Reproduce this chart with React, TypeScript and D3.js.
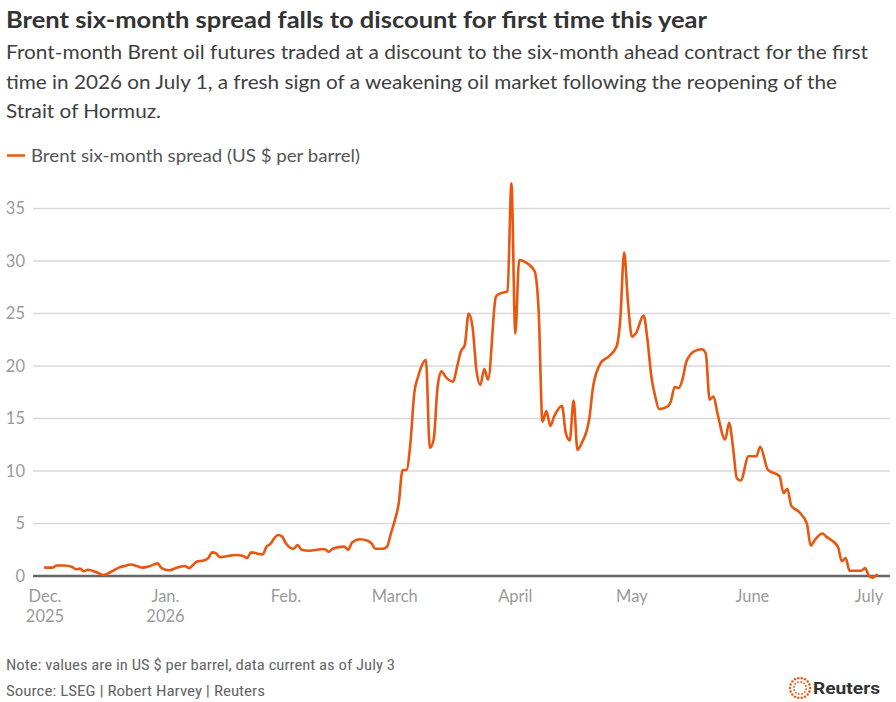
import React from "react";
import * as d3 from "d3";

const titleText = "Brent six-month spread falls to discount for first time this year";
const subtitleLines = [
  "Front-month Brent oil futures traded at a discount to the six-month ahead contract for the first",
  "time in 2026 on July 1, a fresh sign of a weakening oil market following the reopening of the",
  "Strait of Hormuz.",
];
const legendLabel = "Brent six-month spread (US $ per barrel)";
const noteText = "Note: values are in US $ per barrel, data current as of July 3";
const sourceText = "Source: LSEG | Robert Harvey | Reuters";

const yTicks = [0, 5, 10, 15, 20, 25, 30, 35];
const monthTicks = ["2025-12-01", "2026-01-01", "2026-02-01", "2026-03-01", "2026-04-01", "2026-05-01", "2026-06-01", "2026-07-01"];
const monthLabels = [["Dec.", "2025"], ["Jan.", "2026"], ["Feb."], ["March"], ["April"], ["May"], ["June"], ["July"]];

const dates = [
  "2025-12-01", "2025-12-03", "2025-12-04", "2025-12-06", "2025-12-08", "2025-12-09", "2025-12-10", "2025-12-11",
  "2025-12-12", "2025-12-14", "2025-12-16", "2025-12-18", "2025-12-20", "2025-12-22", "2025-12-23", "2025-12-25",
  "2025-12-26", "2025-12-28", "2025-12-30", "2025-12-31",
  "2026-01-02", "2026-01-04", "2026-01-06", "2026-01-07", "2026-01-09", "2026-01-11", "2026-01-12", "2026-01-13",
  "2026-01-14", "2026-01-15", "2026-01-17", "2026-01-19", "2026-01-21", "2026-01-22", "2026-01-23", "2026-01-26",
  "2026-01-27", "2026-01-28", "2026-01-29", "2026-01-30", "2026-01-31",
  "2026-02-01", "2026-02-03", "2026-02-04", "2026-02-05", "2026-02-07", "2026-02-10", "2026-02-11", "2026-02-12",
  "2026-02-13", "2026-02-16", "2026-02-17", "2026-02-18", "2026-02-20", "2026-02-22", "2026-02-23", "2026-02-24",
  "2026-02-26", "2026-02-27", "2026-02-28",
  "2026-03-01", "2026-03-02", "2026-03-03", "2026-03-04", "2026-03-05", "2026-03-06", "2026-03-07", "2026-03-08",
  "2026-03-09", "2026-03-10", "2026-03-11", "2026-03-12", "2026-03-13", "2026-03-14", "2026-03-16", "2026-03-17",
  "2026-03-18", "2026-03-19", "2026-03-20", "2026-03-21", "2026-03-22", "2026-03-23", "2026-03-24", "2026-03-25",
  "2026-03-27", "2026-03-28", "2026-03-30", "2026-03-31",
  "2026-04-01", "2026-04-02", "2026-04-04", "2026-04-05", "2026-04-06", "2026-04-07", "2026-04-08", "2026-04-09",
  "2026-04-10", "2026-04-11", "2026-04-13", "2026-04-14", "2026-04-15", "2026-04-16", "2026-04-17", "2026-04-18",
  "2026-04-20", "2026-04-21", "2026-04-23", "2026-04-25", "2026-04-27", "2026-04-28", "2026-04-29", "2026-04-30",
  "2026-05-01", "2026-05-02", "2026-05-04", "2026-05-05", "2026-05-06", "2026-05-07", "2026-05-08", "2026-05-10",
  "2026-05-11", "2026-05-12", "2026-05-13", "2026-05-14", "2026-05-15", "2026-05-17", "2026-05-19", "2026-05-20",
  "2026-05-21", "2026-05-22", "2026-05-23", "2026-05-25", "2026-05-26", "2026-05-27", "2026-05-28", "2026-05-29",
  "2026-05-31",
  "2026-06-02", "2026-06-03", "2026-06-05", "2026-06-08", "2026-06-09", "2026-06-10", "2026-06-11", "2026-06-13",
  "2026-06-15", "2026-06-16", "2026-06-17", "2026-06-19", "2026-06-20", "2026-06-23", "2026-06-24", "2026-06-25",
  "2026-06-26", "2026-06-29", "2026-06-30",
  "2026-07-01", "2026-07-02", "2026-07-03",
];

const spreadValues = [
  0.8, 0.8, 1.0, 1.0, 0.85, 0.65, 0.7, 0.45,
  0.6, 0.4, 0.1, 0.4, 0.8, 1.0, 1.1, 0.9,
  0.8, 0.95, 1.2, 0.75,
  0.55, 0.8, 0.95, 0.75, 1.35, 1.5, 1.7, 2.25,
  2.15, 1.8, 1.9, 2.0, 1.9, 1.7, 2.25, 2.05,
  2.8, 3.05, 3.6, 3.9, 3.75,
  3.1, 2.6, 2.95, 2.5, 2.4, 2.55, 2.55, 2.3,
  2.6, 2.8, 2.5, 3.2, 3.5, 3.35, 3.1, 2.6,
  2.6, 2.8, 4.05,
  5.3, 6.9, 10.1, 10.1, 12.6, 17.4, 19.0, 20.1,
  20.6, 12.2, 13.0, 18.0, 19.5, 19.0, 18.5, 19.9,
  21.4, 22.0, 25.0, 23.7, 19.6, 18.2, 19.7, 18.7,
  26.6, 26.9, 27.1, 37.4,
  23.1, 30.1, 29.8, 29.5, 29.0, 25.3, 14.7, 15.7,
  14.3, 15.2, 16.2, 13.6, 12.9, 16.7, 12.0, 12.6,
  14.9, 18.0, 20.3, 20.9, 21.8, 24.4, 30.8, 26.0,
  22.8, 23.1, 24.8, 22.5, 19.0, 17.1, 15.9, 16.1,
  16.6, 18.0, 17.9, 18.7, 20.4, 21.4, 21.6, 21.2,
  16.8, 17.1, 15.5, 13.0, 14.6, 12.3, 9.3, 9.1,
  11.4,
  11.4, 12.3, 10.1, 9.5, 7.9, 8.3, 6.7, 6.1,
  5.0, 2.9, 3.4, 4.05, 3.75, 2.8, 1.4, 1.7,
  0.5, 0.5, 0.75,
  0.0, -0.15, 0.1,
];

const W = 896;
const H = 702;
const LINE_COLOR = "#e8560f";
const FONT = "Lato, 'Open Sans', sans-serif";

export default function App() {
  const parse = d3.timeParse("%Y-%m-%d");
  const data = dates.map((d, i) => ({ date: parse(d) as Date, value: spreadValues[i] }));

  const x = d3.scaleTime()
    .domain([parse("2025-12-01") as Date, parse("2026-07-01") as Date])
    .range([45, 869]);
  const y = d3.scaleLinear().domain([0, 35]).range([576, 208.5]);

  const gridLeft = 33;
  const gridRight = 890;

  const line = d3.line<{ date: Date; value: number }>()
    .x((d) => x(d.date))
    .y((d) => y(d.value))
    .curve(d3.curveMonotoneX);

  // Reuters logo dots
  const logoCx = 800;
  const logoCy = 688;
  const outer = d3.range(18).map((i) => {
    const a = (i / 18) * Math.PI * 2;
    return { x: logoCx + Math.cos(a) * 10, y: logoCy + Math.sin(a) * 10, r: 1.25 };
  });
  const inner = d3.range(12).map((i) => {
    const a = (i / 12) * Math.PI * 2 + 0.2;
    return { x: logoCx + Math.cos(a) * 6.2, y: logoCy + Math.sin(a) * 6.2, r: 0.95 };
  });

  return (
    <svg
      width={W}
      height={H}
      viewBox={`0 0 ${W} ${H}`}
      style={{ position: "absolute", left: 0, top: 0, display: "block", background: "#fff" }}
      fontFamily={FONT}
    >
      <rect x={0} y={0} width={W} height={H} fill="#fff" />
      <text x={6} y={28} fontSize={23} fontWeight={700} fill="#333" textLength={701} lengthAdjust="spacingAndGlyphs">
        {titleText}
      </text>
      {subtitleLines.map((t, i) => (
        <text
          key={i}
          x={6}
          y={59 + i * 29.5}
          fontSize={20}
          fill="#404040"
          textLength={i === 0 ? 862 : i === 1 ? 831 : 155}
          lengthAdjust="spacingAndGlyphs"
        >
          {t}
        </text>
      ))}

      {/* legend */}
      <line x1={7} x2={25} y1={155.5} y2={155.5} stroke={LINE_COLOR} strokeWidth={2.5} />
      <text x={31} y={162} fontSize={18} fill="#555" textLength={329} lengthAdjust="spacingAndGlyphs">
        {legendLabel}
      </text>

      {/* gridlines */}
      {yTicks.filter((t) => t !== 0).map((t) => (
        <line key={t} x1={gridLeft} x2={gridRight} y1={y(t)} y2={y(t)} stroke="#d9d9d9" strokeWidth={1.3} />
      ))}
      {yTicks.map((t) => (
        <text key={"l" + t} x={25} y={y(t)} dy="0.35em" textAnchor="end" fontSize={16.5} fill="#9a9a9a">
          {t}
        </text>
      ))}
      <line x1={gridLeft} x2={gridRight} y1={y(0)} y2={y(0)} stroke="#666" strokeWidth={2.5} />

      {/* x labels */}
      {monthTicks.map((m, i) => {
        const xp = x(parse(m) as Date);
        return (
          <g key={m}>
            {monthLabels[i].map((lab, j) => (
              <text key={j} x={xp} y={602 + j * 20} textAnchor="middle" fontSize={16.5} fill="#9a9a9a">
                {lab}
              </text>
            ))}
          </g>
        );
      })}

      {/* data line */}
      <path d={line(data) || ""} fill="none" stroke={LINE_COLOR} strokeWidth={2.6} strokeLinejoin="round" strokeLinecap="round" />

      {/* footer */}
      <text x={6} y={670} fontSize={14} fill="#666" fontFamily="'Liberation Sans Narrow', 'Roboto Condensed', Roboto, sans-serif" textLength={389} lengthAdjust="spacingAndGlyphs">
        {noteText}
      </text>
      <text x={6} y={696} fontSize={14} fill="#666" fontFamily="'Liberation Sans Narrow', 'Roboto Condensed', Roboto, sans-serif" textLength={259} lengthAdjust="spacingAndGlyphs">
        {sourceText}
      </text>

      {/* Reuters logo */}
      {outer.concat(inner).map((d, i) => (
        <circle key={i} cx={d.x} cy={d.y} r={d.r} fill={LINE_COLOR} />
      ))}
      <text x={813} y={694} fontSize={17} fontWeight={700} fill="#333" fontFamily="Roboto, sans-serif" textLength={67} lengthAdjust="spacingAndGlyphs">
        Reuters
      </text>
    </svg>
  );
}
